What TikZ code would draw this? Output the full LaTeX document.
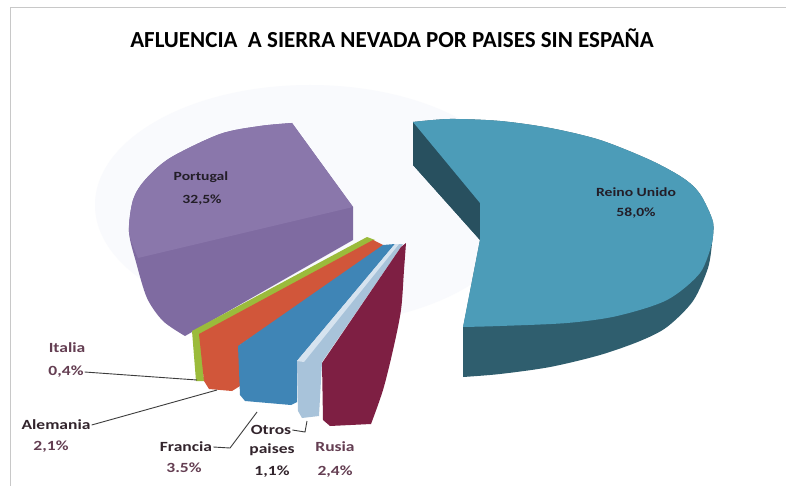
\documentclass[tikz,border=0pt]{standalone}
\usepackage{fontspec}
\setmainfont{Carlito}
\newfontfamily\lblfont[FakeStretch=1.25]{Carlito}
\usepackage{tikz}
\usetikzlibrary{positioning}

\definecolor{framecol}{RGB}{200,200,200}
\definecolor{hazecol}{RGB}{249,250,253}
\definecolor{uktop}{RGB}{76,156,184}
\definecolor{ukside}{RGB}{47,94,110}
\definecolor{ukface}{RGB}{40,80,95}
\definecolor{pttop}{RGB}{138,119,171}
\definecolor{ptside}{RGB}{127,107,161}
\definecolor{itcol}{RGB}{155,187,59}
\definecolor{alcol}{RGB}{209,86,58}
\definecolor{frcol}{RGB}{63,133,182}
\definecolor{otcol}{RGB}{168,195,218}
\definecolor{otlight}{RGB}{214,227,239}
\definecolor{rucol}{RGB}{126,31,67}
\definecolor{lblcol}{RGB}{50,36,44}
\definecolor{pctcol}{RGB}{100,62,82}
\definecolor{inlblcol}{RGB}{35,30,40}
\definecolor{leadcol}{RGB}{60,60,60}

\begin{document}
\begin{tikzpicture}[x=1pt,y=-1pt,
    lbl/.style={font=\lblfont\bfseries\fontsize{14}{16}\selectfont, text=lblcol, inner sep=1pt},
    pct/.style={lbl, text=pctcol},
    inlbl/.style={font=\lblfont\bfseries\fontsize{12.5}{15}\selectfont, text=inlblcol, inner sep=1pt},
    leader/.style={draw=leadcol, line width=0.9pt}]
    \useasboundingbox (0,0) rectangle (786,486);
    \fill[white] (0,0) rectangle (786,486);
    \draw[framecol, line width=1pt] (10,496) -- (10,8) -- (790,8);
    \fill[hazecol] (310,205) ellipse (215 and 120);
    \node[font=\bfseries\fontsize{23}{26}\selectfont] (title) at (392,38) {AFLUENCIA \ A SIERRA NEVADA POR PAISES SIN ESPAÑA};
    % Reino Unido
    \fill[ukside] (413,122) -- (413,165) -- (480,240) -- (463,328) -- (463,377)
        -- plot[smooth] coordinates {(463,377) (500,374) (550,367) (600,355) (640,341) (667,327) (693,301) (708,268) (712,243)}
        -- plot[smooth] coordinates {(712,243) (713,222) (700,194) (683,178) (650,160) (600,140) (550,128) (500,121) (450,119) (413,122)} -- cycle;
    \fill[ukface] (413,122) -- (413,165) -- (480,240) -- (480,203) -- cycle;
    \fill[uktop] (413,122) -- (480,203) -- (480,240) -- (463,327)
        -- plot[smooth] coordinates {(463,327) (500,326) (567,323) (617,316) (667,300) (700,273) (712,243)}
        -- plot[smooth] coordinates {(712,243) (713,222) (700,194) (683,178) (650,160) (600,140) (550,128) (500,121) (450,119) (413,122)} -- cycle;
    \node[inlbl] (ukname) at (636,192) {Reino Unido};
    \node[inlbl] (ukpct) at (636,213) {58,0\%};
    % Portugal
    \fill[ptside] (292,123) -- (353,207) -- (353,240) -- (185,336)
        -- plot[smooth] coordinates {(185,336) (163,321) (147,298) (136,262) (129,232) (133,200) (145,180) (170,158) (220,134) (260,126) (292,123)} -- cycle;
    \fill[pttop] (292,123) -- (353,207) -- (138,258)
        -- plot[smooth] coordinates {(138,258) (129,232) (133,200) (145,180) (170,158) (220,134) (260,126) (292,123)} -- cycle;
    \node[inlbl] (ptname) at (201,177) {Portugal};
    \node[inlbl] (ptpct) at (202,200) {32,5\%};
    % small slices
    \fill[itcol] (192,331) -- (367,237) -- (375,240) -- (201,335) -- (204,381) -- (196,381) -- cycle;
    \fill[alcol] (199,334) -- (373,240) -- (385,246) -- (240,345) -- (240,386) -- (232,391) -- (209,389) -- (204,381) -- cycle;
    \fill[frcol] (238,346) -- (383,245) -- (395,244) -- (297,361) -- (297,402) -- (291,405) -- (245,401) -- (240,395) -- cycle;
    \fill[otcol] (297,361) -- (395,244) -- (403,244) -- (322,362) -- (319,416) -- (302,418) -- (298,411) -- cycle;
    \fill[otlight] (297,361) -- (395,244) -- (399,244) -- (304,362) -- cycle;
    \fill[rucol] (322,363) -- (401,247) -- (406,243)
        -- plot[smooth] coordinates {(406,243) (404,270) (401,310) (393,350) (383,390) (371,424)}
        -- (330,426) -- (323,420) -- cycle;
    % labels
    \node[pct] (itname) at (67,348) {Italia};
    \node[pct] (itpct) at (66,372) {0,4\%};
    \node[lbl] (alname) at (56,425) {Alemania};
    \node[pct] (alpct) at (51,447) {2,1\%};
    \node[lbl] (frname) at (186,447) {Francia};
    \node[pct] (frpct) at (184,468) {3.5\%};
    \node[lbl] (otname) at (271,430) {Otros};
    \node[lbl] (otname2) at (272,450) {paises};
    \node[lbl] (otpct) at (272,472) {1,1\%};
    \node[pct] (runame) at (335,447) {Rusia};
    \node[pct] (rupct) at (335,472) {2,4\%};
    % leader lines
    \coordinate (itend) at (197,380);
    \coordinate (alend) at (217,390);
    \coordinate (frbend) at (230,448);
    \coordinate (frend) at (257,412);
    \coordinate (otbend) at (305,432);
    \coordinate (otend) at (307,421);
    \draw[leader] (itpct.east) -- (itend);
    \draw[leader] (alname.east) -- (alend);
    \draw[leader] (frname.east) -- (frbend) -- (frend);
    \draw[leader] (otname.east) -- (otbend) -- (otend);
\end{tikzpicture}
\end{document}
